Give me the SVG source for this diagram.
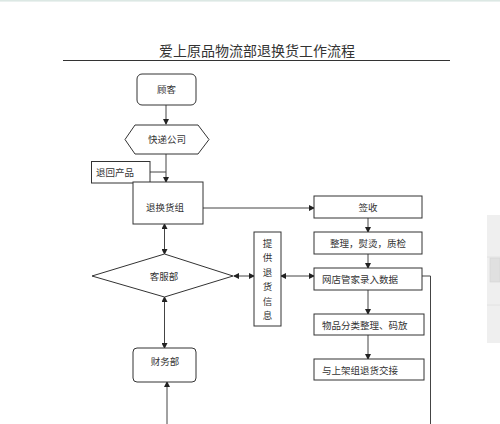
<svg xmlns="http://www.w3.org/2000/svg" width="500" height="424" viewBox="0 0 500 424">
<defs>
<marker id="ah" markerWidth="6" markerHeight="6" refX="5" refY="3" orient="auto-start-reverse" markerUnits="userSpaceOnUse">
<path d="M0,0 L6,3 L0,6 z" fill="#222"/>
</marker>
<style>
.box{fill:#fff;stroke:#333;stroke-width:1}
.ln{fill:none;stroke:#444;stroke-width:1}
.t{font-family:"Noto Sans CJK SC","Noto Sans",sans-serif;font-size:9.5px;fill:#333}
.c{text-anchor:middle}
</style>
</defs>
<rect x="0" y="0" width="500" height="424" fill="#fff"/>
<rect x="0" y="0" width="500" height="1.6" fill="#dce8e4"/>
<g id="side-panel">
<rect x="487" y="215" width="13" height="128" fill="#efefef"/>
<line x1="487" y1="257" x2="500" y2="257" stroke="#e2e2e2"/>
<line x1="487" y1="305" x2="500" y2="305" stroke="#e2e2e2"/>
<rect x="490" y="258" width="10" height="24" fill="#e0e0e0" stroke="#d4d4d4" stroke-width="0.6"/>
</g>
<g id="title">
<text x="257" y="56" class="t c" style="font-size:14px">爱上原品物流部退换货工作流程</text>
<line x1="63" y1="60.5" x2="450" y2="60.5" stroke="#333" stroke-width="1"/>
</g>
<g id="connectors">
<line class="ln" x1="166" y1="105" x2="166" y2="124" marker-end="url(#ah)"/>
<line class="ln" x1="166" y1="154" x2="166" y2="182" marker-end="url(#ah)"/>
<line class="ln" x1="150" y1="172" x2="166" y2="172"/>
<line class="ln" x1="203" y1="208" x2="314" y2="208" marker-end="url(#ah)"/>
<path d="M197,204 L200,199 L203,204 z" fill="#222"/>
<line class="ln" x1="368" y1="218" x2="368" y2="232" marker-end="url(#ah)"/>
<line class="ln" x1="368" y1="254" x2="368" y2="268" marker-end="url(#ah)"/>
<line class="ln" x1="368" y1="290" x2="368" y2="314" marker-end="url(#ah)"/>
<line class="ln" x1="368" y1="335" x2="368" y2="359" marker-end="url(#ah)"/>
<polyline class="ln" points="422,276 430.5,276 430.5,424"/>
<line class="ln" x1="281" y1="276" x2="314" y2="276" marker-start="url(#ah)" marker-end="url(#ah)"/>
<line class="ln" x1="234" y1="276" x2="254" y2="276" marker-start="url(#ah)" marker-end="url(#ah)"/>
<line class="ln" x1="164.5" y1="224" x2="164.5" y2="254" marker-start="url(#ah)" marker-end="url(#ah)"/>
<line class="ln" x1="164.5" y1="297" x2="164.5" y2="348" marker-start="url(#ah)" marker-end="url(#ah)"/>
<line class="ln" x1="167" y1="424" x2="167" y2="382" marker-end="url(#ah)"/>
</g>
<g id="n-guke">
<rect class="box" x="137" y="74" width="59" height="31" rx="5"/>
<text class="t c" x="166.5" y="93">顾客</text>
</g>
<g id="n-kuaidi">
<polygon class="box" points="125,139.5 135,125 198,125 209,139.5 198,154 135,154"/>
<text class="t c" x="167" y="143">快递公司</text>
</g>
<g id="n-tuihui">
<rect class="box" x="91.5" y="161.5" width="58.5" height="21.5"/>
<text class="t" x="96" y="176">退回产品</text>
</g>
<g id="n-tuihuanzu">
<rect class="box" x="133" y="182" width="70" height="42"/>
<text class="t c" x="165" y="211">退换货组</text>
</g>
<g id="n-qianshou">
<rect class="box" x="314" y="196" width="108" height="22"/>
<text class="t c" x="368" y="211">签收</text>
</g>
<g id="n-zhengli">
<rect class="box" x="314" y="232" width="108" height="22"/>
<text class="t c" x="368" y="247">整理，熨烫，质检</text>
</g>
<g id="n-wangdian">
<rect class="box" x="314" y="268" width="108" height="22"/>
<text class="t" x="322" y="283">网店管家录入数据</text>
</g>
<g id="n-fenlei">
<rect class="box" x="314" y="314" width="110" height="21"/>
<text class="t" x="322" y="328.5">物品分类整理、码放</text>
</g>
<g id="n-jiaojie">
<rect class="box" x="314" y="359" width="110" height="21"/>
<text class="t" x="322" y="373.5">与上架组退货交接</text>
</g>
<g id="n-tigong">
<rect class="box" x="254" y="232" width="27" height="94"/>
<text class="t c" x="267.5" y="246.5">提</text>
<text class="t c" x="267.5" y="261">供</text>
<text class="t c" x="267.5" y="275.5">退</text>
<text class="t c" x="267.5" y="290">货</text>
<text class="t c" x="267.5" y="304.5">信</text>
<text class="t c" x="267.5" y="319">息</text>
</g>
<g id="n-kefu">
<polygon class="box" points="92,276 164.5,254 233,276 164.5,297"/>
<text class="t c" x="164" y="279.5">客服部</text>
</g>
<g id="n-caiwu">
<rect class="box" x="133" y="348" width="63" height="34" rx="4"/>
<text class="t c" x="165" y="365">财务部</text>
</g>
</svg>
